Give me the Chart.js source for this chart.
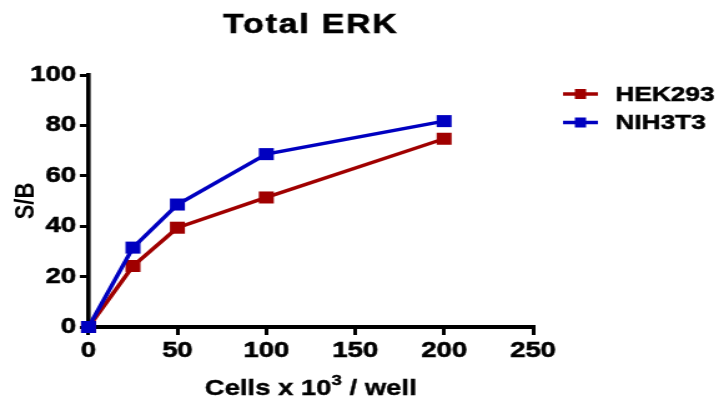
<!DOCTYPE html>
<html>
<head>
<meta charset="utf-8">
<script src="https://cdn.jsdelivr.net/npm/chart.js@4"></script>
<style>
  html, body { margin: 0; padding: 0; background: #fff; overflow: hidden; }
  #wrap { width: 580px; height: 397px; transform: scaleX(1.2483); transform-origin: 0 0; }
</style>
</head>
<body>
<div id="wrap"><canvas id="chart" width="580" height="397"></canvas></div>
<script>
// values
const cells   = [0, 25, 50, 100, 200];
const hek293  = [0, 24.2, 39.4, 51.4, 74.7];
const nih3t3  = [0, 31.5, 48.6, 68.6, 81.7];
const xTicks  = [0, 50, 100, 150, 200, 250];
const yTicks  = [0, 20, 40, 60, 80, 100];
const seriesNames = ['HEK293', 'NIH3T3'];
const titleText = 'Total ERK';
const xTitleParts = ['Cells x 10', '3', ' / well'];   // middle part is a superscript

const RED = '#a00000', BLUE = '#0000c0';
const FONT = '"Liberation Sans", Arial, sans-serif';

const pts = ys => cells.map((x, i) => ({x: x, y: ys[i]}));

// chart title + x axis title (with a real superscript), centred over the plot area
const titlePlugin = {
  id: 'plotTitle',
  afterDraw(chart) {
    const {ctx, chartArea} = chart;
    const cx = (chartArea.left + chartArea.right) / 2;
    ctx.save();
    ctx.font = 'bold 27px ' + FONT;
    ctx.letterSpacing = '1.5px';
    ctx.fillStyle = '#000';
    ctx.strokeStyle = '#000';
    ctx.lineWidth = 0.6;
    ctx.textAlign = 'center';
    ctx.textBaseline = 'alphabetic';
    ctx.fillText(titleText, cx, 33);
    ctx.strokeText(titleText, cx, 33);

    ctx.letterSpacing = '0px';
    ctx.textAlign = 'left';
    ctx.lineWidth = 0.4;
    const big = 'bold 22px ' + FONT, small = 'bold 15px ' + FONT;
    const fonts = [big, small, big];
    const widths = xTitleParts.map((t, i) => { ctx.font = fonts[i]; return ctx.measureText(t).width; });
    let x = cx - widths.reduce((a, b) => a + b, 0) / 2;
    const base = 395;
    xTitleParts.forEach((t, i) => {
      ctx.font = fonts[i];
      const y = i === 1 ? base - 10 : base;
      ctx.fillText(t, x, y);
      ctx.strokeText(t, x, y);
      x += widths[i];
    });
    ctx.restore();
  }
};

// legend: line + square marker + label
const legendPlugin = {
  id: 'lineLegend',
  afterDraw(chart) {
    const ctx = chart.ctx;
    const rows = [94, 122.5];
    ctx.save();
    seriesNames.forEach((name, i) => {
      const ds = chart.data.datasets.find(d => d.label === name);
      const y = rows[i];
      ctx.strokeStyle = ds.borderColor;
      ctx.lineWidth = 3.5;
      ctx.beginPath(); ctx.moveTo(451, y); ctx.lineTo(479, y); ctx.stroke();
      ctx.fillStyle = ds.borderColor;
      ctx.fillRect(460.5, y - 5, 9, 10);
      ctx.fillStyle = '#000';
      ctx.strokeStyle = '#000';
      ctx.lineWidth = 0.5;
      ctx.font = 'bold 21px ' + FONT;
      ctx.textBaseline = 'middle';
      ctx.textAlign = 'left';
      ctx.fillText(ds.label, 493, y + 1);
      ctx.strokeText(ds.label, 493, y + 1);
    });
    ctx.restore();
  }
};

const tickFont = {family: FONT, size: 22, weight: 'bold'};

new Chart(document.getElementById('chart'), {
  type: 'line',
  data: {
    datasets: [
      {label: seriesNames[0], data: pts(hek293), borderColor: RED, backgroundColor: RED, order: 1},
      {label: seriesNames[1], data: pts(nih3t3), borderColor: BLUE, backgroundColor: BLUE, order: 0}
    ]
  },
  options: {
    responsive: false,
    animation: false,
    layout: {padding: {left: 0, right: 153, top: 75, bottom: 0}},
    elements: {
      line: {borderWidth: 3.5, tension: 0},
      point: {pointStyle: 'rect', radius: 8.5, borderWidth: 0, hoverRadius: 8.5}
    },
    datasets: {line: {clip: false}},
    plugins: {legend: {display: false}, title: {display: false}, tooltip: {enabled: false}},
    scales: {
      x: {
        type: 'linear', min: 0, max: 250,
        afterFit: s => { s.height = 70; },
        afterBuildTicks: s => { s.ticks = xTicks.map(v => ({value: v})); },
        grid: {drawOnChartArea: false, drawTicks: true, tickLength: 8, color: '#000', lineWidth: 3},
        border: {display: true, color: '#000', width: 4},
        ticks: {color: '#000', font: tickFont, padding: 3, maxRotation: 0,
                textStrokeColor: '#000', textStrokeWidth: 0.6},
        title: {display: false}
      },
      y: {
        type: 'linear', min: 0, max: 100,
        afterFit: s => { s.width = 70.9; },
        afterBuildTicks: s => { s.ticks = yTicks.map(v => ({value: v})); },
        grid: {drawOnChartArea: false, drawTicks: true, tickLength: 7, color: '#000', lineWidth: 3},
        border: {display: true, color: '#000', width: 3.6},
        ticks: {color: '#000', font: tickFont, padding: 3,
                textStrokeColor: '#000', textStrokeWidth: 0.6},
        title: {display: true, text: 'S/B', color: '#000',
                font: {family: FONT, size: 22, weight: 'bold'}, padding: {top: 8, bottom: 0}}
      }
    }
  },
  plugins: [titlePlugin, legendPlugin]
});
</script>
</body>
</html>
